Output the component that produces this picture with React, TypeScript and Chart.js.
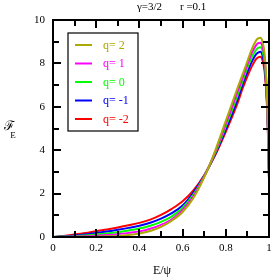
import React, { useEffect, useRef } from "react";
import { Chart, registerables } from "chart.js";

Chart.register(...registerables);

const E_VALUES = [0, 0.05, 0.1, 0.15, 0.2, 0.25, 0.3, 0.35, 0.4, 0.45, 0.5, 0.55, 0.6, 0.65, 0.7, 0.75, 0.8, 0.85, 0.88, 0.9, 0.92, 0.94, 0.95, 0.96, 0.97, 0.98, 0.99, 0.995, 1];

const Q_P2 = [0, 0, 0.002, 0.006, 0.015, 0.03, 0.05, 0.09, 0.16, 0.28, 0.47, 0.75, 1.15, 1.8, 2.75, 3.95, 5.35, 6.75, 7.55, 8.1, 8.65, 9.05, 9.15, 9.18, 9.0, 8.4, 6.8, 5.2, 2.7];
const Q_P1 = [0, 0.01, 0.02, 0.035, 0.06, 0.09, 0.13, 0.19, 0.26, 0.38, 0.56, 0.82, 1.25, 1.88, 2.78, 3.9, 5.22, 6.58, 7.4, 7.95, 8.47, 8.83, 8.93, 8.95, 8.78, 8.2, 6.65, 5.1, 2.7];
const Q_0 = [0, 0.02, 0.04, 0.07, 0.11, 0.16, 0.22, 0.3, 0.39, 0.52, 0.7, 0.95, 1.35, 1.95, 2.8, 3.85, 5.1, 6.4, 7.25, 7.8, 8.28, 8.62, 8.72, 8.75, 8.58, 8.0, 6.5, 5.0, 2.7];
const Q_M1 = [0, 0.03, 0.07, 0.12, 0.18, 0.25, 0.33, 0.42, 0.52, 0.66, 0.85, 1.1, 1.45, 2.05, 2.82, 3.8, 4.97, 6.22, 7.1, 7.6, 8.07, 8.42, 8.5, 8.54, 8.37, 7.8, 6.35, 4.9, 2.7];
const Q_M2 = [0, 0.05, 0.11, 0.18, 0.27, 0.35, 0.44, 0.54, 0.65, 0.8, 1.02, 1.3, 1.65, 2.15, 2.85, 3.75, 4.85, 6.05, 6.9, 7.4, 7.85, 8.2, 8.28, 8.31, 8.15, 7.6, 6.2, 4.8, 2.7];

const SERIES_LABELS = ["q= 2", "q= 1", "q= 0", "q= -1", "q= -2"];
const SERIES_COLORS = ["#aaaa00", "#ff00ff", "#00ff00", "#0000ff", "#ff0000"];
const SERIES_VALUES = [Q_P2, Q_P1, Q_0, Q_M1, Q_M2];

const X_TICK_VALUES = [0, 0.1, 0.2, 0.3, 0.4, 0.5, 0.6, 0.7, 0.8, 0.9, 1];
const Y_TICK_VALUES = [0, 1, 2, 3, 4, 5, 6, 7, 8, 9, 10];
const X_LABELLED = [0, 0.2, 0.4, 0.6, 0.8, 1];
const Y_LABELLED = [0, 2, 4, 6, 8, 10];

const TITLE_LEFT = "γ=3/2";
const TITLE_RIGHT = "r =0.1";
const X_LABEL = "E/ψ";

const SERIF = "'Liberation Serif', 'DejaVu Serif', serif";

const framePlugin = {
  id: "frameTicks",
  afterDraw(chart: any) {
    const ctx = chart.ctx;
    const ca = chart.chartArea;
    const L = ca.left, R = ca.right, T = ca.top, B = ca.bottom;
    const xs = chart.scales.x;
    const ys = chart.scales.y;
    ctx.save();
    ctx.fillStyle = "#000000";
    ctx.fillRect(L - 1, T - 1, R - L + 2, 2);
    ctx.fillRect(L - 1, B - 1, R - L + 2, 2);
    ctx.fillRect(L - 1, T - 1, 2, B - T + 2);
    ctx.fillRect(R - 1, T - 1, 2, B - T + 2);
    for (let i = 0; i < X_TICK_VALUES.length; i++) {
      const px = Math.round(xs.getPixelForValue(X_TICK_VALUES[i]));
      const len = i % 2 === 0 ? 8 : 6;
      ctx.fillStyle = "#000000";
      ctx.fillRect(px - 1, B - len, 2, len);
      ctx.fillRect(px - 1, T, 2, len);
    }
    for (let i = 0; i < Y_TICK_VALUES.length; i++) {
      const py = Math.round(ys.getPixelForValue(Y_TICK_VALUES[i]));
      const len = i % 2 === 0 ? 8 : 6;
      ctx.fillStyle = "#000000";
      ctx.fillRect(L, py - 1, len, 2);
      ctx.fillRect(R - len, py - 1, len, 2);
    }

    const bx = 68, by = 33, bw = 70, bh = 98;
    ctx.fillStyle = "#fff";
    ctx.fillRect(bx, by, bw, bh);
    ctx.strokeStyle = "#000";
    ctx.lineWidth = 1.2;
    ctx.strokeRect(bx, by, bw, bh);
    chart.data.datasets.forEach((ds: any, i: number) => {
      const y = by + 12 + i * 18.5;
      ctx.strokeStyle = ds.borderColor;
      ctx.lineWidth = 2;
      ctx.beginPath();
      ctx.moveTo(75, y);
      ctx.lineTo(92, y);
      ctx.stroke();
      ctx.fillStyle = ds.borderColor;
      ctx.font = `12px ${SERIF}`;
      ctx.textAlign = "left";
      ctx.textBaseline = "middle";
      ctx.fillText(ds.label, 103, y + 0.5);
    });

    ctx.fillStyle = "#000";
    ctx.textBaseline = "middle";
    ctx.textAlign = "left";
    ctx.font = `11px ${SERIF}`;
    ctx.fillText(TITLE_LEFT, 137, 7);
    ctx.fillText(TITLE_RIGHT, 180, 7);
    ctx.textAlign = "center";
    ctx.font = `12px ${SERIF}`;
    ctx.fillText(X_LABEL, 162, 271);
    ctx.font = `13px ${SERIF}`;
    ctx.fillText("ℱ", 9, 127);
    ctx.font = `9px ${SERIF}`;
    ctx.fillText("E", 13, 136);
    ctx.restore();
  },
};

export default function App() {
  const ref = useRef<HTMLCanvasElement>(null);
  useEffect(() => {
    document.body.style.margin = "0";
    const canvas = ref.current!;
    const datasets = SERIES_VALUES.map((vals, i) => ({
      label: SERIES_LABELS[i],
      data: E_VALUES.map((e, j) => ({ x: e, y: vals[j] })),
      borderColor: SERIES_COLORS[i],
      backgroundColor: SERIES_COLORS[i],
      borderWidth: 2,
      pointRadius: 0,
      fill: false,
      cubicInterpolationMode: "monotone" as const,
    }));
    const chart = new Chart(canvas, {
      type: "line",
      data: { datasets },
      options: {
        responsive: false,
        animation: false,
        layout: { padding: { top: 20, right: 4, left: 0, bottom: 0 } },
        plugins: { legend: { display: false }, tooltip: { enabled: false }, title: { display: false } },
        scales: {
          x: {
            type: "linear",
            min: 0,
            max: 1,
            afterBuildTicks: (scale: any) => {
              scale.ticks = X_LABELLED.map((v) => ({ value: v }));
            },
            afterFit: (scale: any) => {
              scale.height = 40;
              scale.paddingLeft = 0;
              scale.paddingRight = 0;
            },
            ticks: {
              color: "#000",
              font: { family: SERIF, size: 11 },
              padding: 5,
              maxRotation: 0,
              callback: (v: any) => String(Number(v)),
            },
            grid: { display: false, drawTicks: false },
            border: { display: false },
          },
          y: {
            min: 0,
            max: 10,
            afterBuildTicks: (scale: any) => {
              scale.ticks = Y_LABELLED.map((v) => ({ value: v }));
            },
            afterFit: (scale: any) => {
              scale.width = 53;
              scale.paddingTop = 0;
              scale.paddingBottom = 0;
            },
            ticks: {
              color: "#000",
              font: { family: SERIF, size: 11 },
              padding: 8,
              callback: (v: any) => String(Number(v)),
            },
            grid: { display: false, drawTicks: false },
            border: { display: false },
          },
        },
      },
      plugins: [framePlugin],
    });
    return () => chart.destroy();
  }, []);
  return <canvas ref={ref} width={273} height={277} style={{ display: "block" }} />;
}
